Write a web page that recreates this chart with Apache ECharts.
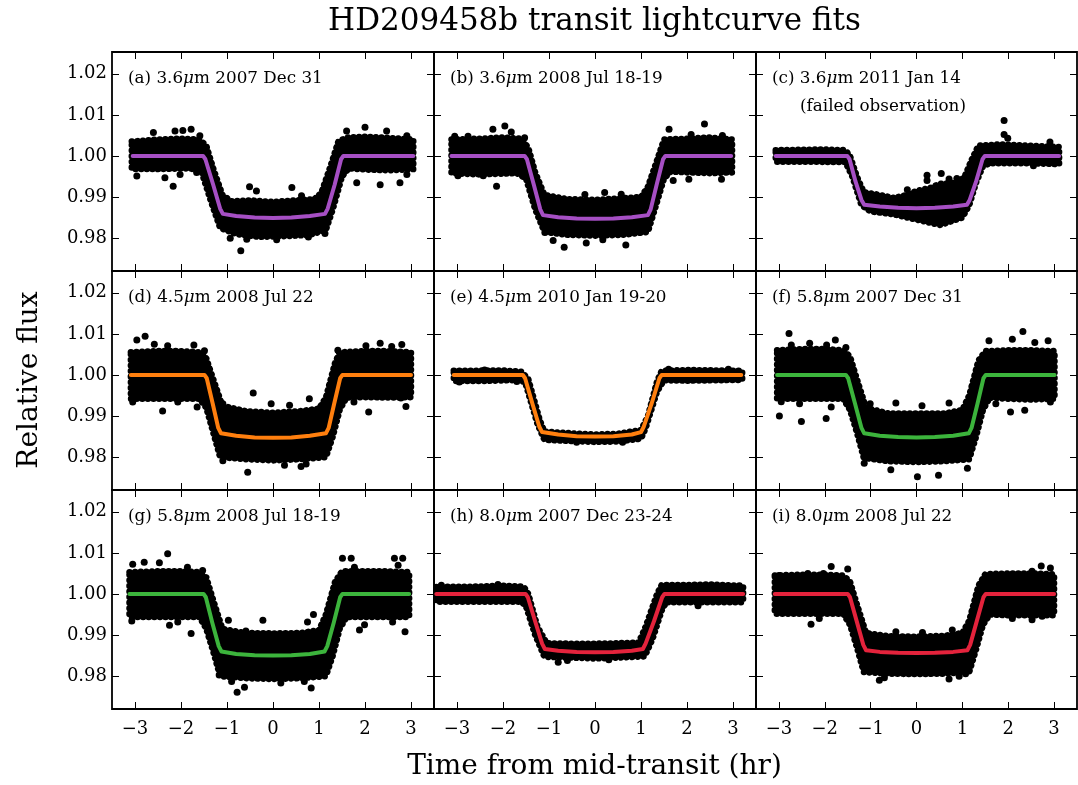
<!DOCTYPE html>
<html><head><meta charset="utf-8">
<script src="https://cdn.jsdelivr.net/npm/echarts@6/dist/echarts.min.js"></script>
<style>html,body{margin:0;padding:0;background:#fff}#chart{width:1078px;height:785px}</style>
</head><body><div id="chart"></div>
<script>
// ---------------- data ----------------
const xTicks = [-3, -2, -1, 0, 1, 2, 3];
const yTicks = [0.98, 0.99, 1.00, 1.01, 1.02];

const panelIds = ['a','b','c','d','e','f','g','h','i'];
const panelLabels = [
  ['(a) 3.6', 'm 2007 Dec 31'],
  ['(b) 3.6', 'm 2008 Jul 18-19'],
  ['(c) 3.6', 'm 2011 Jan 14'],
  ['(d) 4.5', 'm 2008 Jul 22'],
  ['(e) 4.5', 'm 2010 Jan 19-20'],
  ['(f) 5.8', 'm 2007 Dec 31'],
  ['(g) 5.8', 'm 2008 Jul 18-19'],
  ['(h) 8.0', 'm 2007 Dec 23-24'],
  ['(i) 8.0', 'm 2008 Jul 22']
];
const panelNote = '(failed observation)';
const modelColors = ['#a64fc4','#a64fc4','#a64fc4','#ff7f0e','#ff7f0e','#3cb43c','#3cb43c','#e4233c','#e4233c'];

// dense point cloud: upper edge (left->right) and lower edge (right->left)
const aUpper = [[-3.07,1.0035],[-2.5,1.0040],[-2.0,1.0042],[-1.6,1.0040],[-1.45,1.0025],[-1.3,0.9970],[-1.1,0.9905],[-0.9,0.9890],[-0.5,0.9892],[0,0.9888],[0.5,0.9892],[0.9,0.9895],[1.05,0.9910],[1.25,0.9975],[1.42,1.0035],[1.6,1.0045],[2.0,1.0047],[2.5,1.0044],[3.05,1.0040]];
const aLower = [[3.05,0.9968],[2.5,0.9965],[2.0,0.9967],[1.65,0.9970],[1.5,0.9950],[1.3,0.9870],[1.15,0.9820],[0.8,0.9808],[0.3,0.9805],[-0.3,0.9803],[-0.8,0.9810],[-1.15,0.9825],[-1.35,0.9890],[-1.55,0.9960],[-1.8,0.9970],[-2.5,0.9968],[-3.07,0.9968]];
const aOut = [[-2.60,1.0057],[-2.13,1.0061],[-1.96,1.0062],[-1.78,1.0065],[-1.59,1.0049],[-2.96,0.9951],[-2.17,0.9926],[-2.35,0.9947],[-2.02,0.9955],[-1.66,0.9960],[-0.51,0.9925],[-0.36,0.9915],[0.41,0.9923],[0.62,0.9903],[-0.70,0.9769],[-0.93,0.9800],[-0.57,0.9797],[0.08,0.9796],[0.77,0.9803],[1.13,0.9811],[2.0,1.0070],[2.47,1.0061],[1.60,1.0061],[2.91,1.0049],[1.82,0.9935],[2.33,0.9930],[2.76,0.9935],[2.91,0.9955]];
const aModel = [[-3.05,1.0],[-1.52,1.0],[-1.47,0.9992],[-1.30,0.9930],[-1.15,0.9872],[-1.09,0.9859],[-0.8,0.9854],[-0.4,0.9850],[0,0.9849],[0.4,0.9850],[0.8,0.9854],[1.13,0.9859],[1.19,0.9872],[1.34,0.9930],[1.48,0.9992],[1.53,1.0],[3.05,1.0]];

const bUpper = [[-3.12,1.0040],[-2.5,1.0042],[-2.0,1.0045],[-1.6,1.0042],[-1.45,1.0020],[-1.3,0.9960],[-1.1,0.9905],[-0.6,0.9895],[0,0.9893],[0.6,0.9897],[1.0,0.9900],[1.15,0.9925],[1.35,0.9990],[1.5,1.0040],[2.0,1.0042],[2.5,1.0045],[2.98,1.0040]];
const bLower = [[2.98,0.9960],[2.5,0.9958],[2.0,0.9960],[1.65,0.9962],[1.5,0.9945],[1.3,0.9870],[1.15,0.9815],[0.6,0.9808],[0,0.9806],[-0.6,0.9808],[-1.1,0.9815],[-1.3,0.9870],[-1.5,0.9945],[-1.7,0.9958],[-2.5,0.9955],[-3.12,0.9958]];
const bOut = [[-3.05,1.0048],[-2.76,1.0048],[-2.22,1.0065],[-1.96,1.0073],[-1.82,1.0058],[-1.53,1.0044],[-2.14,0.9926],[-2.98,0.9952],[-2.43,0.9952],[0.21,0.9911],[-0.22,0.9906],[0.57,0.9907],[-1.09,0.9814],[-0.91,0.9794],[-0.67,0.9778],[-0.19,0.9788],[0.67,0.9783],[0.17,0.9796],[1.61,1.0065],[2.38,1.0078],[2.09,1.0052],[2.77,1.0050],[1.70,0.9940],[2.04,0.9943],[2.75,0.9943]];
const bModel = [[-3.12,1.0],[-1.53,1.0],[-1.48,0.9992],[-1.33,0.9930],[-1.19,0.9870],[-1.13,0.9856],[-0.8,0.9851],[-0.4,0.9848],[0,0.9847],[0.4,0.9848],[0.8,0.9851],[1.15,0.9856],[1.21,0.9870],[1.34,0.9930],[1.48,0.9992],[1.53,1.0],[2.96,1.0]];

const cUpper = [[-3.07,1.0014],[-2.5,1.0015],[-2.0,1.0016],[-1.55,1.0014],[-1.45,1.0000],[-1.3,0.9950],[-1.15,0.9912],[-0.8,0.9905],[-0.5,0.9898],[-0.2,0.9905],[0,0.9915],[0.3,0.9922],[0.5,0.9932],[0.9,0.9935],[1.05,0.9950],[1.2,0.9990],[1.35,1.0025],[1.8,1.0028],[2.5,1.0025],[3.11,1.0022]];
const cLower = [[3.11,0.9980],[2.5,0.9982],[1.6,0.9982],[1.45,0.9975],[1.3,0.9935],[1.15,0.9880],[1.0,0.9850],[0.6,0.9835],[0.5,0.9832],[0.2,0.9840],[0,0.9845],[-0.5,0.9858],[-1.0,0.9865],[-1.2,0.9880],[-1.4,0.9950],[-1.55,0.9985],[-2.5,0.9986],[-3.07,0.9986]];
const cOut = [[0.23,0.9953],[0.23,0.9940],[0.54,0.9957],[1.91,1.0086],[1.91,1.0052],[1.99,1.0043],[2.91,1.0034],[0.71,0.9944],[0.88,0.9945],[2.55,0.9976],[-0.2,0.9918]];
const cModel = [[-3.07,1.0],[-1.51,1.0],[-1.46,0.9992],[-1.33,0.9938],[-1.20,0.9893],[-1.14,0.9881],[-0.8,0.9877],[-0.4,0.9874],[0,0.9873],[0.4,0.9874],[0.8,0.9877],[1.10,0.9881],[1.16,0.9893],[1.30,0.9938],[1.44,0.9992],[1.49,1.0],[3.11,1.0]];

const dUpper = [[-3.09,1.0055],[-2.5,1.0058],[-2.0,1.0058],[-1.55,1.0055],[-1.45,1.0040],[-1.3,0.9990],[-1.1,0.9925],[-0.6,0.9912],[0,0.9908],[0.6,0.9912],[1.0,0.9918],[1.15,0.9945],[1.35,1.0030],[1.45,1.0055],[2.0,1.0058],[2.5,1.0058],[3.0,1.0055]];
const dLower = [[3.0,0.9946],[2.5,0.9945],[2.0,0.9946],[1.6,0.9945],[1.45,0.9915],[1.3,0.9850],[1.15,0.9800],[0.6,0.9795],[0,0.9792],[-0.6,0.9795],[-1.15,0.9800],[-1.3,0.9860],[-1.45,0.9920],[-1.6,0.9942],[-2.5,0.9942],[-3.09,0.9942]];
const dOut = [[-2.78,1.0094],[-2.96,1.0085],[-2.58,1.0075],[-2.29,1.0071],[-1.72,1.0073],[-1.49,1.0059],[-3.05,0.9934],[-2.40,0.9912],[-2.07,0.9934],[-1.65,0.9922],[-0.43,0.9956],[-1.09,0.9930],[-0.04,0.9930],[0.36,0.9926],[0.79,0.9942],[-0.55,0.9763],[-1.09,0.9791],[0.61,0.9777],[0.72,0.9783],[0.25,0.9780],[1.41,1.0060],[2.02,1.0071],[2.33,1.0077],[2.58,1.0069],[2.80,1.0074],[2.08,0.9910],[2.89,0.9923],[1.76,0.9934],[2.78,0.9944]];
const dModel = [[-3.09,1.0],[-1.49,1.0],[-1.44,0.9992],[-1.31,0.9930],[-1.19,0.9871],[-1.13,0.9858],[-0.8,0.9852],[-0.4,0.9848],[0,0.9847],[0.4,0.9848],[0.8,0.9852],[1.15,0.9858],[1.21,0.9871],[1.33,0.9930],[1.46,0.9992],[1.51,1.0],[3.0,1.0]];

const eUpper = [[-3.07,1.0010],[-2.0,1.0011],[-1.6,1.0008],[-1.45,0.9990],[-1.2,0.9890],[-1.1,0.9862],[-0.5,0.9858],[0,0.9855],[0.5,0.9857],[1.0,0.9866],[1.15,0.9900],[1.35,0.9985],[1.45,1.0010],[2.0,1.0012],[3.2,1.0010]];
const eLower = [[3.2,0.9988],[2.0,0.9986],[1.5,0.9987],[1.35,0.9960],[1.1,0.9870],[1.0,0.9845],[0.5,0.9838],[0,0.9837],[-0.5,0.9839],[-1.1,0.9842],[-1.25,0.9880],[-1.5,0.9975],[-1.6,0.9988],[-2.5,0.9985],[-3.07,0.9985]];
const eOut = [[-2.95,0.9983],[-2.4,1.0012],[-1.7,0.9984],[1.6,1.0014],[2.9,1.0014],[0.6,0.9836],[-0.4,0.9836]];
const eModel = [[-3.07,1.0],[-1.57,1.0],[-1.52,0.9992],[-1.36,0.9930],[-1.21,0.9874],[-1.15,0.9861],[-0.8,0.9855],[-0.4,0.9851],[0,0.9850],[0.4,0.9851],[0.8,0.9855],[1.0,0.9861],[1.06,0.9874],[1.23,0.9930],[1.40,0.9992],[1.45,1.0],[3.18,1.0]];

const fUpper = [[-3.04,1.0060],[-2.5,1.0063],[-2.0,1.0063],[-1.6,1.0060],[-1.45,1.0045],[-1.3,0.9990],[-1.1,0.9920],[-0.6,0.9906],[0,0.9906],[0.6,0.9906],[1.0,0.9915],[1.15,0.9950],[1.35,1.0035],[1.5,1.0058],[2.0,1.0060],[2.5,1.0060],[3.01,1.0058]];
const fLower = [[3.01,0.9942],[2.5,0.9940],[2.0,0.9942],[1.6,0.9945],[1.45,0.9915],[1.3,0.9850],[1.15,0.9795],[0.6,0.9790],[0,0.9788],[-0.6,0.9790],[-1.15,0.9798],[-1.3,0.9860],[-1.45,0.9915],[-1.6,0.9942],[-2.5,0.9942],[-3.04,0.9942]];
const fOut = [[-2.78,1.0101],[-2.73,1.0073],[-2.33,1.0077],[-1.96,1.0073],[-1.77,1.0085],[-1.54,1.0067],[-2.99,0.9900],[-2.51,0.9887],[-1.97,0.9894],[-2.55,0.9930],[-1.86,0.9922],[-2.95,0.9935],[-1.01,0.9930],[-0.45,0.9932],[0.12,0.9925],[0.71,0.9932],[-0.56,0.9769],[0.02,0.9752],[0.48,0.9756],[1.11,0.9773],[-1.14,0.9785],[1.58,1.0083],[2.09,1.0087],[2.32,1.0106],[2.58,1.0079],[2.87,1.0083],[2.05,0.9910],[2.36,0.9914],[2.92,0.9934],[1.73,0.9930]];
const fModel = [[-3.04,1.0],[-1.54,1.0],[-1.49,0.9992],[-1.34,0.9930],[-1.20,0.9871],[-1.14,0.9858],[-0.8,0.9852],[-0.4,0.9849],[0,0.9848],[0.4,0.9849],[0.8,0.9852],[1.14,0.9858],[1.20,0.9871],[1.33,0.9930],[1.46,0.9992],[1.51,1.0],[3.01,1.0]];

const gUpper = [[-3.12,1.0053],[-2.5,1.0055],[-2.0,1.0055],[-1.6,1.0053],[-1.45,1.0040],[-1.3,0.9985],[-1.1,0.9915],[-0.6,0.9905],[0,0.9904],[0.6,0.9905],[1.0,0.9912],[1.15,0.9950],[1.35,1.0030],[1.5,1.0055],[2.0,1.0055],[2.5,1.0055],[2.96,1.0053]];
const gLower = [[2.96,0.9944],[2.5,0.9944],[2.0,0.9944],[1.6,0.9944],[1.45,0.9915],[1.3,0.9850],[1.15,0.9800],[0.6,0.9795],[0,0.9793],[-0.6,0.9795],[-1.15,0.9800],[-1.3,0.9860],[-1.45,0.9915],[-1.6,0.9944],[-2.5,0.9944],[-3.12,0.9944]];
const gOut = [[-3.05,1.0072],[-2.80,1.0077],[-2.47,1.0076],[-2.29,1.0098],[-1.86,1.0065],[-1.53,1.0057],[-3.07,0.9934],[-2.25,0.9924],[-1.78,0.9904],[-2.07,0.9932],[-0.97,0.9936],[-0.59,0.9910],[-0.22,0.9936],[0.75,0.9932],[0.88,0.9950],[-0.78,0.9761],[-0.62,0.9773],[-1.17,0.9803],[-0.90,0.9787],[0.83,0.9771],[0.68,0.9787],[0.17,0.9783],[1.51,1.0087],[1.70,1.0087],[2.64,1.0087],[2.82,1.0087],[1.77,1.0065],[2.72,1.0070],[1.88,0.9912],[2.87,0.9908],[2.60,0.9932],[1.99,0.9925]];
const gModel = [[-3.12,1.0],[-1.51,1.0],[-1.46,0.9992],[-1.32,0.9930],[-1.18,0.9873],[-1.12,0.9860],[-0.8,0.9854],[-0.4,0.9851],[0,0.9850],[0.4,0.9851],[0.8,0.9854],[1.12,0.9860],[1.18,0.9873],[1.32,0.9930],[1.46,0.9992],[1.51,1.0],[2.96,1.0]];

const hUpper = [[-3.45,1.0017],[-2.5,1.0018],[-2.0,1.0020],[-1.55,1.0018],[-1.45,1.0000],[-1.25,0.9920],[-1.05,0.9880],[-0.5,0.9879],[0,0.9879],[0.5,0.9880],[0.95,0.9882],[1.1,0.9920],[1.35,1.0000],[1.45,1.0022],[2.0,1.0022],[2.5,1.0023],[3.22,1.0020]];
const hLower = [[3.22,0.9980],[2.5,0.9980],[2.0,0.9980],[1.55,0.9980],[1.45,0.9960],[1.25,0.9890],[1.08,0.9848],[0.5,0.9845],[0,0.9843],[-0.5,0.9845],[-1.1,0.9847],[-1.3,0.9900],[-1.5,0.9970],[-1.6,0.9981],[-2.5,0.9981],[-3.45,0.9981]];
const hOut = [[-3.34,1.0021],[-2.11,1.0023],[-0.80,0.9834],[2.24,0.9971],[-0.6,0.9838],[0.3,0.9840]];
const hModel = [[-3.45,1.0],[-1.51,1.0],[-1.46,0.9992],[-1.30,0.9933],[-1.15,0.9879],[-1.09,0.9866],[-0.8,0.9862],[-0.4,0.9859],[0,0.9858],[0.4,0.9859],[0.8,0.9862],[1.04,0.9866],[1.10,0.9879],[1.28,0.9933],[1.46,0.9992],[1.51,1.0],[3.22,1.0]];

const iUpper = [[-3.09,1.0045],[-2.5,1.0047],[-2.0,1.0047],[-1.6,1.0045],[-1.45,1.0030],[-1.3,0.9975],[-1.1,0.9905],[-0.6,0.9897],[0,0.9896],[0.6,0.9898],[1.0,0.9905],[1.15,0.9935],[1.35,1.0020],[1.5,1.0048],[2.0,1.0050],[2.5,1.0050],[3.0,1.0048]];
const iLower = [[3.0,0.9948],[2.5,0.9948],[2.0,0.9948],[1.6,0.9950],[1.45,0.9925],[1.3,0.9865],[1.15,0.9810],[0.6,0.9806],[0,0.9805],[-0.6,0.9806],[-1.15,0.9810],[-1.3,0.9870],[-1.45,0.9925],[-1.6,0.9952],[-2.5,0.9952],[-3.09,0.9952]];
const iOut = [[-1.86,1.0067],[-1.50,1.0061],[-3.00,1.0045],[-2.37,1.0050],[-2.03,1.0050],[-2.30,0.9926],[-2.12,0.9940],[-0.45,0.9908],[0.13,0.9906],[0.78,0.9912],[-0.81,0.9790],[-0.70,0.9796],[0.71,0.9793],[1.07,0.9806],[0.93,0.9800],[2.72,1.0068],[2.92,1.0063],[2.52,1.0055],[1.58,1.0044],[2.09,0.9940],[2.74,0.9946],[2.52,0.9937]];
const iModel = [[-3.09,1.0],[-1.50,1.0],[-1.45,0.9992],[-1.30,0.9932],[-1.16,0.9876],[-1.10,0.9863],[-0.8,0.9859],[-0.4,0.9857],[0,0.9856],[0.4,0.9857],[0.8,0.9859],[1.11,0.9863],[1.17,0.9876],[1.31,0.9932],[1.46,0.9992],[1.51,1.0],[3.0,1.0]];

// ---------------- chart ----------------
const uppers = [aUpper,bUpper,cUpper,dUpper,eUpper,fUpper,gUpper,hUpper,iUpper];
const lowers = [aLower,bLower,cLower,dLower,eLower,fLower,gLower,hLower,iLower];
const outs = [aOut,bOut,cOut,dOut,eOut,fOut,gOut,hOut,iOut];
const models = [aModel,bModel,cModel,dModel,eModel,fModel,gModel,hModel,iModel];

const FONT = '"DejaVu Serif", serif';
const lefts = [112, 434, 756], widths = [322, 322, 321];
const tops = [52, 271, 490], H = 219;
const X_MIN = -3.5, X_MAX = 3.5, Y_MIN = 0.972, Y_MAX = 1.0253;

const grid = [], xAxis = [], yAxis = [], series = [], graphic = [];
const fmtX = v => (v < 0 ? '\u2212' + Math.abs(v) : String(v));
const fmtY = v => Number(v).toFixed(2);

for (let p = 0; p < 9; p++) {
  const r = Math.floor(p / 3), c = p % 3;
  grid.push({ left: lefts[c], top: tops[r], width: widths[c], height: H,
    show: true, borderColor: '#000', borderWidth: 1.8, backgroundColor: 'transparent' });
  const tick = { show: true, inside: true, length: 7, lineStyle: { color: '#000', width: 1 } };
  const line = { show: false, onZero: false };
  xAxis.push({ type: 'value', gridIndex: p, position: 'bottom', min: X_MIN, max: X_MAX,
    axisLine: line, splitLine: { show: false },
    axisTick: Object.assign({ customValues: xTicks }, tick),
    axisLabel: { show: r === 2, customValues: xTicks, formatter: fmtX, fontFamily: FONT, fontSize: 18, color: '#000', margin: 11 } });
  xAxis.push({ type: 'value', gridIndex: p, position: 'top', min: X_MIN, max: X_MAX,
    axisLine: line, splitLine: { show: false },
    axisTick: Object.assign({ customValues: xTicks }, tick), axisLabel: { show: false } });
  yAxis.push({ type: 'value', gridIndex: p, position: 'left', min: Y_MIN, max: Y_MAX,
    axisLine: line, splitLine: { show: false },
    axisTick: Object.assign({ customValues: yTicks }, tick),
    axisLabel: { show: c === 0, customValues: yTicks, formatter: fmtY, fontFamily: FONT, fontSize: 18, color: '#000', margin: 5 } });
  yAxis.push({ type: 'value', gridIndex: p, position: 'right', min: Y_MIN, max: Y_MAX,
    axisLine: line, splitLine: { show: false },
    axisTick: Object.assign({ customValues: yTicks }, tick), axisLabel: { show: false } });

  const up = uppers[p], lo = lowers[p];
  series.push({ type: 'custom', xAxisIndex: 2 * p, yAxisIndex: 2 * p, data: [[0, 1]], clip: true, silent: true, z: 1,
    renderItem: (params, api) => ({
      type: 'polygon',
      shape: { points: up.concat(lo).map(pt => api.coord(pt)) },
      style: { fill: '#000', stroke: '#000', lineWidth: 6.5, lineDash: [0.1, 5.5], lineCap: 'round', lineJoin: 'round' }
    }) });
  series.push({ type: 'scatter', xAxisIndex: 2 * p, yAxisIndex: 2 * p, data: outs[p], symbolSize: 7,
    itemStyle: { color: '#000', opacity: 1 }, z: 2, silent: true });
  series.push({ type: 'line', xAxisIndex: 2 * p, yAxisIndex: 2 * p, data: models[p], showSymbol: false,
    lineStyle: { color: modelColors[p], width: 4, cap: 'round', join: 'round' }, z: 3, silent: true });

  graphic.push({ type: 'text', x: lefts[c] + 16, y: tops[r] + 18, z: 10,
    style: { text: '{n|' + panelLabels[p][0] + '}{m|\u03bc}{n|' + panelLabels[p][1] + '}',
      rich: { n: { fontFamily: FONT, fontSize: 16.8, fill: '#000' },
              m: { fontFamily: FONT, fontSize: 16.8, fontStyle: 'italic', fill: '#000' } } } });
}
graphic.push({ type: 'text', x: lefts[2] + 44, y: tops[0] + 46, z: 10,
  style: { text: panelNote, fontFamily: FONT, fontSize: 16.8, fill: '#000' } });
graphic.push({ type: 'text', x: 594.5, y: 22, z: 10,
  style: { text: 'HD209458b transit lightcurve fits', fontFamily: FONT, fontSize: 31, fill: '#000',
    align: 'center', verticalAlign: 'middle', textAlign: 'center', textVerticalAlign: 'middle' } });
graphic.push({ type: 'text', x: 594.5, y: 767, z: 10,
  style: { text: 'Time from mid-transit (hr)', fontFamily: FONT, fontSize: 28, fill: '#000',
    align: 'center', verticalAlign: 'middle', textAlign: 'center', textVerticalAlign: 'middle' } });
graphic.push({ type: 'text', x: 30, y: 380, rotation: Math.PI / 2, z: 10,
  style: { text: 'Relative flux', fontFamily: FONT, fontSize: 28, fill: '#000',
    align: 'center', verticalAlign: 'middle', textAlign: 'center', textVerticalAlign: 'middle' } });

const chart = echarts.init(document.getElementById('chart'), null, { renderer: 'canvas' });
chart.setOption({ animation: false, backgroundColor: '#fff', grid, xAxis, yAxis, series, graphic });
</script></body></html>
